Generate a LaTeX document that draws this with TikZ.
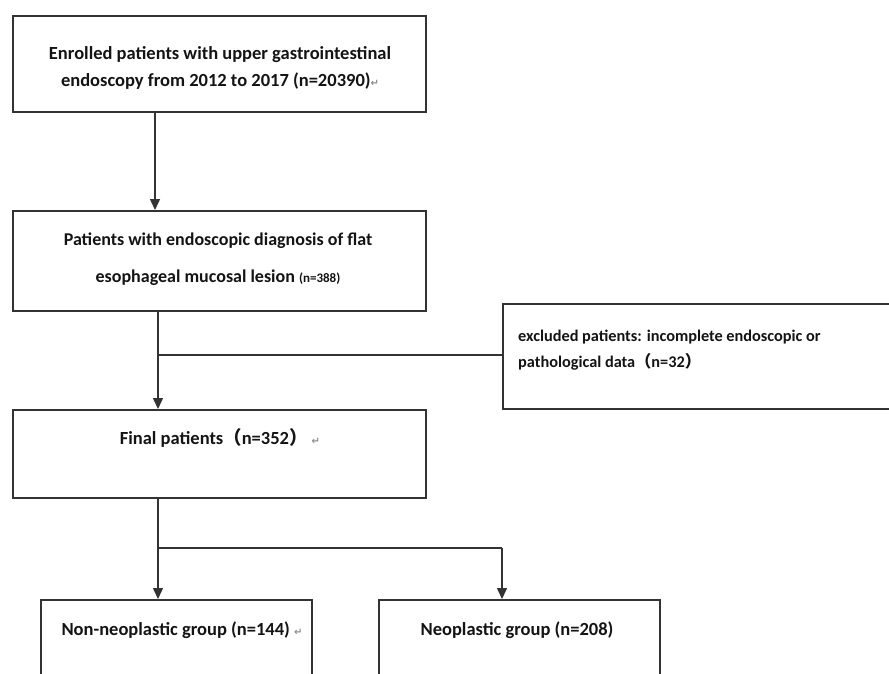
\documentclass[tikz,border=0pt]{standalone}
\usepackage{fontspec}
\setmainfont{Carlito}
\newfontfamily\cjkfont{Noto Sans CJK SC}
\newfontfamily\djvfont{DejaVu Sans}
\usetikzlibrary{arrows.meta}
\newcommand{\pmark}{{\color{black!45}\djvfont\fontsize{10}{10}\selectfont ↵}}
\newcommand{\lpar}{{\cjkfont （}}
\newcommand{\rpar}{{\cjkfont ）}}
\begin{document}
\begin{tikzpicture}[x=1pt,y=-1pt,
  box/.style={draw=black!80, line width=1.7pt, rectangle, inner sep=0pt, anchor=north west},
  txt/.style={inner sep=0pt, font=\bfseries\fontsize{18.5}{27}\selectfont, text=black!92},
  conn/.style={draw=black!80, line width=1.5pt},
  arr/.style={conn, -{Triangle[length=11pt,width=10pt]}}]
\fill[white] (0,0) rectangle (889,674);
\useasboundingbox (0,0) rectangle (889,674);
% boxes
\node[box, minimum width=413pt, minimum height=96pt] (b1) at (12,15) {};
\node[box, minimum width=413pt, minimum height=100pt] (b2) at (12,210) {};
\node[box, minimum width=413pt, minimum height=88pt] (b3) at (12,409) {};
\node[box, minimum width=420pt, minimum height=105pt] (ex) at (502,303) {};
\node[box, minimum width=271pt, minimum height=100pt] (g1) at (40,599) {};
\node[box, minimum width=281pt, minimum height=100pt] (g2) at (378,599) {};
% texts
\node[txt, align=center] (t1) at (220,68) {Enrolled patients with upper gastrointestinal\\endoscopy from 2012 to 2017 (n=20390)\pmark};
\node[txt, align=center, font=\bfseries\fontsize{18}{37}\selectfont] (t2) at (218,259) {Patients with endoscopic diagnosis of flat\\esophageal mucosal lesion {\fontsize{13}{13}\selectfont(n=388)}};
\node[txt] (t3) at (220,438) {Final patients\lpar n=352\rpar\ \pmark};
\node[txt, align=left, anchor=west, font=\bfseries\fontsize{16.3}{26}\selectfont] (t4) at (518,350) {excluded patients: incomplete endoscopic or\\pathological data\lpar n=32\rpar};
\node[txt] (t5) at (182,630) {Non-neoplastic group (n=144)\ \pmark};
\node[txt] (t6) at (517,630) {Neoplastic group (n=208)};
% connectors
\coordinate (xa) at (155,0);
\coordinate (xb) at (158,0);
\coordinate (j1) at (158,355);
\coordinate (j2) at (158,548);
\coordinate (j3) at (502,548);
\draw[arr] (b1.south -| xa) -- (b2.north -| xa);
\draw[arr] (b2.south -| xb) -- (b3.north -| xb);
\draw[conn] (j1) -- (j1 -| ex.west);
\draw[conn] (b3.south -| xb) -- (j2) -- (j3);
\draw[arr] (j2) -- (g1.north -| j2);
\draw[arr] (j3) -- (g2.north -| j3);
\end{tikzpicture}
\end{document}
